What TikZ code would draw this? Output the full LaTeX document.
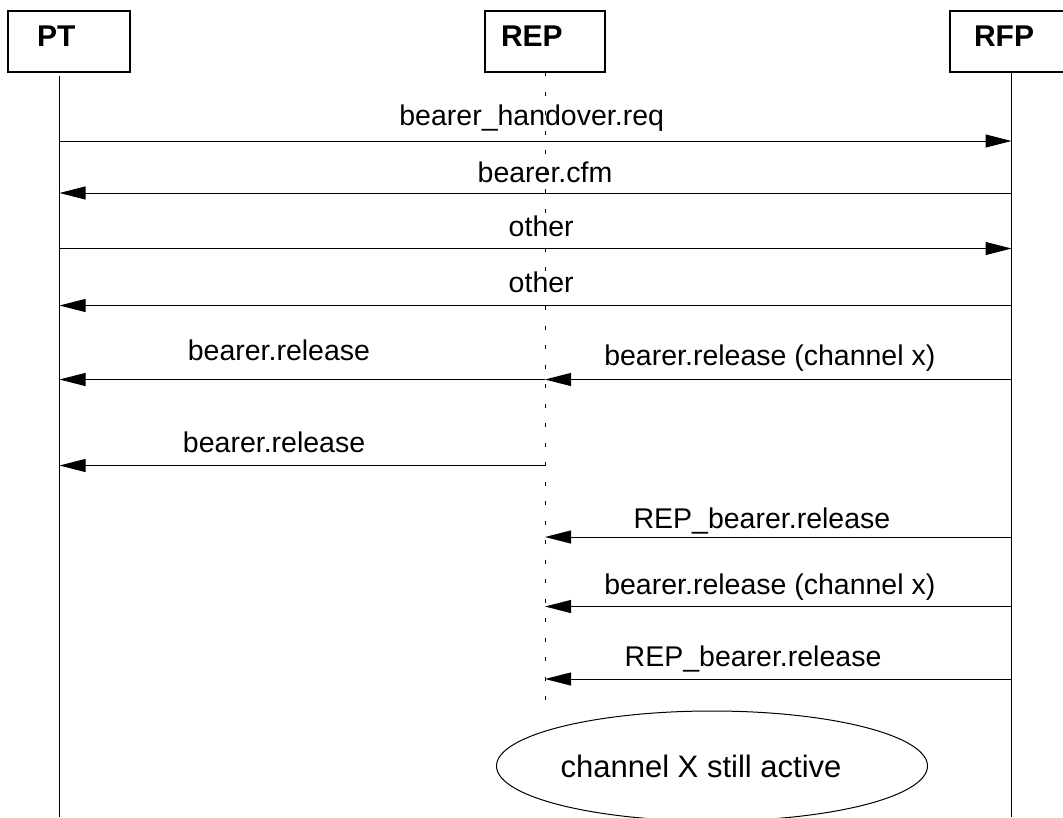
\documentclass[tikz,border=0pt]{standalone}
\usepackage{fontspec}
\setmainfont{Liberation Sans}
\usetikzlibrary{arrows.meta,shapes.geometric}
\begin{document}
\begin{tikzpicture}[x=1pt,y=-1pt,
    actor/.style={draw,line width=1.5pt,minimum height=61pt,text depth=11pt,align=left,
      font=\fontsize{30}{36}\selectfont\bfseries},
    life/.style={line width=1pt},
    dotlife/.style={line width=1pt,dash pattern=on 4pt off 15.5pt},
    msg/.style={line width=1pt,-{Triangle[length=26pt,width=13pt]}},
    lbl/.style={anchor=base,yshift=12pt,inner sep=0pt,font=\fontsize{28.5}{34}\selectfont},
    note/.style={draw,ellipse,line width=1pt,inner sep=0pt,minimum width=431pt,minimum height=110pt,
      font=\fontsize{31}{37}\selectfont}]
      \useasboundingbox (0,0) rectangle (1063,817);
      \clip (0,0) rectangle (1063,817);
      \draw
        (69,41.5) node[actor,inner xsep=29pt,text width=64pt] (pt){PT}
        (545,41.5) node[actor,inner xsep=16pt,text width=88pt] (rep){REP}
        (1010,41.5) node[actor,inner xsep=24pt,text width=72pt] (rfp){RFP};
      \coordinate (ptl) at (59.5,76);
      \coordinate (pte) at (59.5,817);
      \coordinate (repl) at (545,72);
      \coordinate (repe) at (545,705);
      \coordinate (rfpl) at (1011.5,72);
      \coordinate (rfpe) at (1011.5,817);
      \draw[life] (ptl) -- (pte);
      \draw[dotlife] (repl) -- (repe);
      \draw[life] (rfpl) -- (rfpe);
      \coordinate (r1) at (0,141);
      \coordinate (r2) at (0,193);
      \coordinate (r3) at (0,248.5);
      \coordinate (r4) at (0,305.5);
      \coordinate (r5) at (0,379.5);
      \coordinate (r6) at (0,465.5);
      \coordinate (r7) at (0,537);
      \coordinate (r8) at (0,606.5);
      \coordinate (r9) at (0,679);
      \begin{scope}[msg]
        \draw (ptl |- r1) to node[lbl,pos=0.496,yshift=4pt] {bearer\_handover.req} (rfpl |- r1);
        \draw (rfpl |- r2) to node[lbl,pos=0.49,yshift=-1pt] {bearer.cfm} (ptl |- r2);
        \draw (ptl |- r3) to node[lbl,pos=0.506] {other} (rfpl |- r3);
        \draw (rfpl |- r4) to node[lbl,pos=0.494,yshift=1pt] {other} (ptl |- r4);
        \draw (repl |- r5) to node[lbl,pos=0.548,yshift=7pt] {bearer.release} (ptl |- r5);
        \draw (rfpl |- r5) to node[lbl,pos=0.518,yshift=2pt] {bearer.release (channel x)} (repl |- r5);
        \draw (repl |- r6) to node[lbl,pos=0.558,yshift=1pt] {bearer.release} (ptl |- r6);
        \draw (rfpl |- r7) to node[lbl,pos=0.535,yshift=-3pt] {REP\_bearer.release} (repl |- r7);
        \draw (rfpl |- r8) to node[lbl,pos=0.518] {bearer.release (channel x)} (repl |- r8);
        \draw (rfpl |- r9) to node[lbl,pos=0.554,yshift=1pt] {REP\_bearer.release} (repl |- r9);
      \end{scope}
      \node[note] (active) at (712,766) {channel X still active\rule{22pt}{0pt}};
    \end{tikzpicture}
\end{document}
